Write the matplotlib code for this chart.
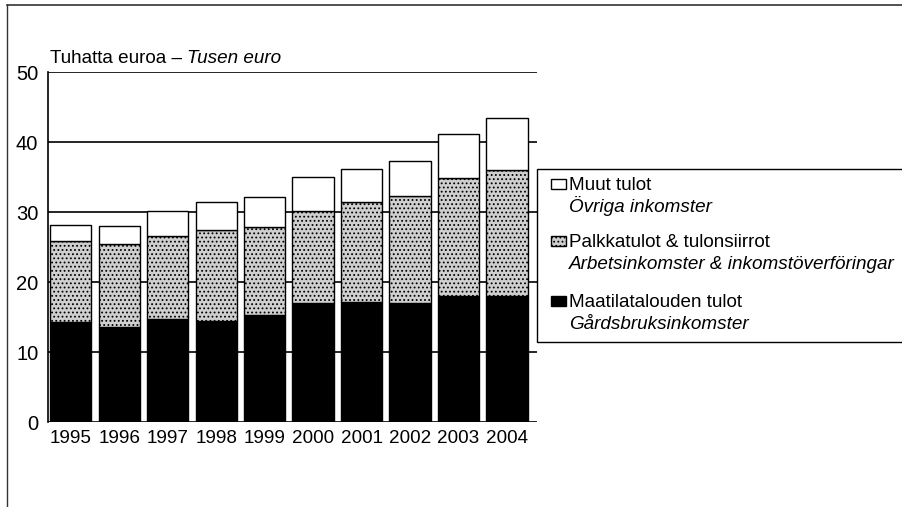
import matplotlib
matplotlib.use("Agg")
import matplotlib.pyplot as plt
from matplotlib.patches import Rectangle
from matplotlib.lines import Line2D
import numpy as np

plt.rcParams['font.family'] = ['Liberation Sans', 'DejaVu Sans']
plt.rcParams['hatch.color'] = '#707070'
plt.rcParams['hatch.linewidth'] = 0.8

years = ['1995', '1996', '1997', '1998', '1999', '2000', '2001', '2002', '2003', '2004']
farm = [14.3, 13.6, 14.7, 14.5, 15.3, 17.0, 17.2, 17.0, 18.0, 18.0]
wages = [11.5, 11.8, 11.9, 12.9, 12.5, 13.2, 14.2, 15.3, 16.9, 18.0]
other = [2.4, 2.6, 3.6, 4.1, 4.3, 4.8, 4.7, 5.0, 6.3, 7.5]

labels_fi = ['Muut tulot', 'Palkkatulot & tulonsiirrot', 'Maatilatalouden tulot']
labels_sv = ['Övriga inkomster', 'Arbetsinkomster & inkomstöverföringar', 'Gårdsbruksinkomster']
colors = ['white', '#cfcfcf', 'black']
FS = 13.6

W, H = 903, 507
fig = plt.figure(figsize=(W / 100, H / 100), dpi=100)
ax = fig.add_axes([48 / W, 1 - 422 / H, (537 - 48) / W, (422 - 72) / H])

x = np.arange(len(years))
bw = 0.85
ax.bar(x, farm, bw, color=colors[2], edgecolor='black', linewidth=1.0, zorder=3)
ax.bar(x, wages, bw, bottom=farm, color=colors[1], edgecolor='black', linewidth=1.0,
       hatch='....', zorder=3)
bot2 = np.array(farm) + np.array(wages)
ax.bar(x, other, bw, bottom=bot2, color=colors[0], edgecolor='black', linewidth=1.0, zorder=3)

ax.set_xlim(-0.47, 9.62)
ax.set_ylim(0, 50)
ax.set_yticks([0, 10, 20, 30, 40, 50])
ax.set_xticks(x)
ax.set_xticklabels(years)
ax.tick_params(axis='both', length=0, labelsize=FS)
ax.tick_params(axis='y', labelsize=14.5, pad=7)
ax.tick_params(axis='x', pad=6)
for s in ['top', 'right', 'bottom']:
    ax.spines[s].set_visible(False)
ax.spines['left'].set_linewidth(1.2)
ax.yaxis.grid(True, color='black', linewidth=1.2, zorder=0)
ax.set_axisbelow(True)

# title
r = fig.canvas.get_renderer()
t1 = fig.text(50 / W, 1 - 63 / H, 'Tuhatta euroa – ', fontsize=FS, ha='left', va='baseline')
bb = t1.get_window_extent(renderer=r)
fig.text(bb.x1 / W, 1 - 63 / H, 'Tusen euro', fontsize=FS, style='italic', ha='left', va='baseline')

# outer frame
fig.add_artist(Line2D([7 / W, 1], [1 - 5 / H, 1 - 5 / H], color='#333333', linewidth=1.2))
fig.add_artist(Line2D([7 / W, 7 / W], [0, 1 - 5 / H], color='#333333', linewidth=1.0))

# legend box
fig.add_artist(Rectangle((537 / W, 1 - 342 / H), (W + 5 - 537) / W, (342 - 169) / H,
                         transform=fig.transFigure, facecolor='white', edgecolor='black',
                         linewidth=1.0, clip_on=False))
ys = [190, 247, 307]
for i in range(3):
    yb = ys[i]
    fig.add_artist(Rectangle((551 / W, 1 - (yb - 1) / H), 15 / W, 10 / H,
                             transform=fig.transFigure, facecolor=colors[i],
                             edgecolor='black', linewidth=1.0,
                             hatch='....' if i == 1 else None))
    fig.text(569 / W, 1 - yb / H, labels_fi[i], fontsize=FS, ha='left', va='baseline')
    fig.text(569 / W, 1 - (yb + 22) / H, labels_sv[i], fontsize=FS, style='italic',
             ha='left', va='baseline')

fig.savefig('out.png', dpi=100)
